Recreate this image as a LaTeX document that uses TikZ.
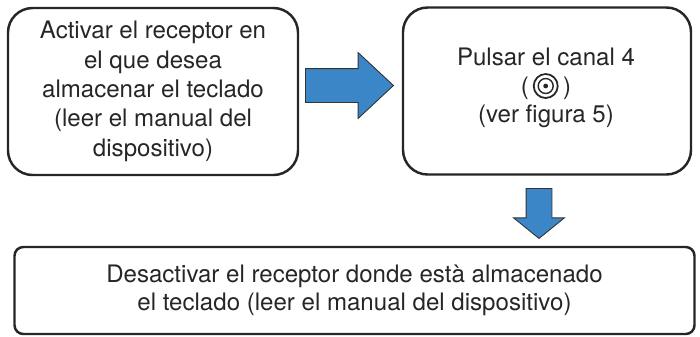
\documentclass[tikz,border=0pt]{standalone}
\usepackage{fontspec}
\setmainfont{TeX Gyre Heros}
\usetikzlibrary{shapes.arrows}

\begin{document}
\begin{tikzpicture}[x=0.02cm,y=-0.02cm]
	\tikzstyle{paso} = [draw=black!85, line width=1.4pt, rounded corners=14pt, align=center, text=black!85, inner sep=0pt, font=\fontsize{13.7}{16.7}\selectfont]
	\tikzstyle{caja} = [draw=black!85, line width=1.4pt, rounded corners=5pt, align=center, text=black!85, inner sep=0pt, font=\fontsize{13.7}{16}\selectfont]
	\tikzstyle{flecha} = [single arrow, draw=black!80, fill=blue1, line width=0.5pt, anchor=tail, single arrow head indent=0pt]
	\tikzstyle{anillo} = [circle, draw=black!85, inner sep=0pt]
	\definecolor{blue1}{RGB}{58,134,198}

	\useasboundingbox (0,0) rectangle (700,336);

	\node[paso, minimum width=0.02cm*290, minimum height=0.02cm*167](activar) at (153,91.5) {Activar el receptor en\\el que desea\\almacenar el teclado\\(leer el manual del\\dispositivo)};
	\node[paso, minimum width=0.02cm*288, minimum height=0.02cm*167](pulsar) at (547,91) {};
	\node[caja, minimum width=0.02cm*680, minimum height=0.02cm*87](desactivar) at (354.5,290.5) {Desactivar el receptor donde està almacenado\\el teclado (leer el manual del dispositivo)};

	\node[text=black!85, font=\fontsize{13.7}{16.4}\selectfont, align=center](canal) at (546,88) {Pulsar el canal 4\\(\hspace{19.5pt})\\(ver figura 5)};
	\node[anillo, line width=1pt, minimum size=0.02cm*24](anillo1) at (545.7,86) {};
	\node[anillo, line width=0.8pt, minimum size=0.02cm*15](anillo2) at (545.7,86) {};
	\node[anillo, fill=black!85, minimum size=0.02cm*4](anillo3) at (545.7,86) {};

	\node[flecha, inner xsep=0pt, inner ysep=0.33cm, single arrow tip angle=86, minimum height=0.02cm*88, single arrow head extend=0.32cm](derecha) at (305,85.5) {};
	\node[flecha, inner ysep=0pt, inner xsep=0.25cm, shape border rotate=270, single arrow tip angle=102, minimum height=0.02cm*50, single arrow head extend=0.25cm](abajo) at (539,188) {};
\end{tikzpicture}
\end{document}
